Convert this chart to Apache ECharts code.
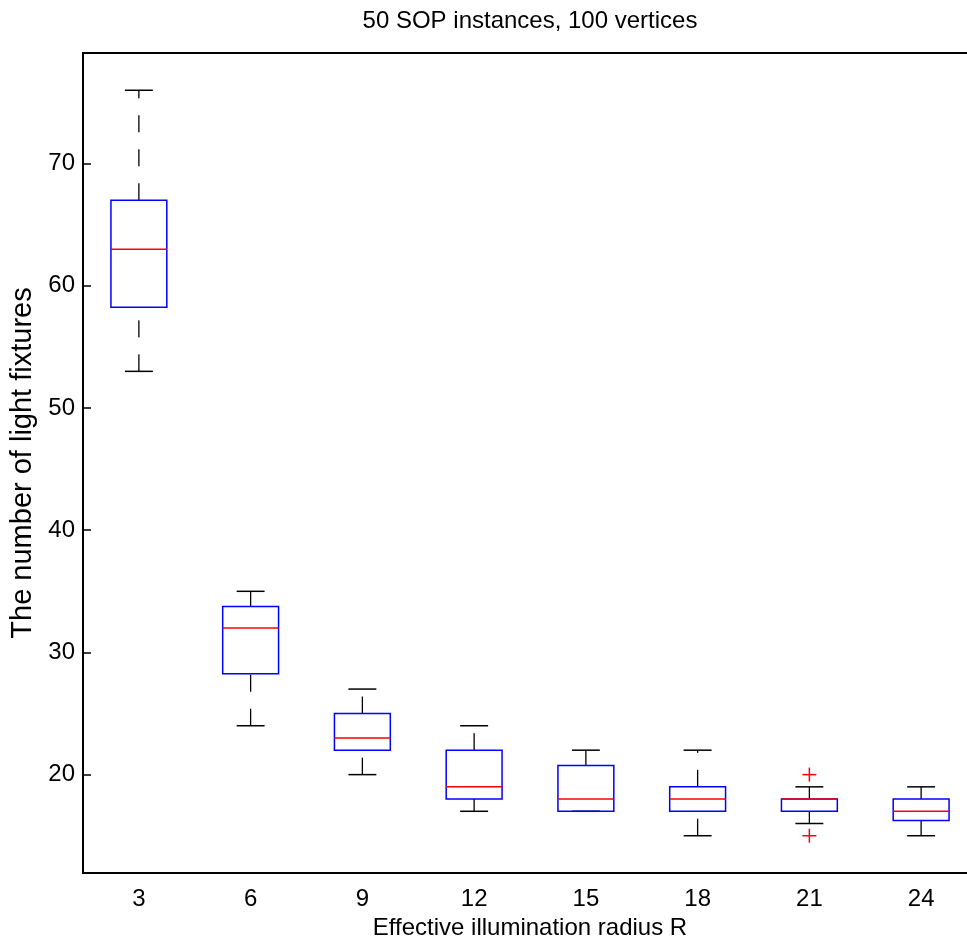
<!DOCTYPE html>
<html>

<head>
    <meta charset="UTF-8">
    <title>Light fixtures boxplot</title>
    <script src="https://cdn.jsdelivr.net/npm/echarts@6/dist/echarts.min.js"></script>
    <style>
        html, body { margin: 0; padding: 0; background: #fff; overflow: hidden; }
        /* the reference figure is cut off on the right, so the chart is a bit wider than the window */
        #main { width: 977px; height: 945px; }
    </style>
</head>

<body>
    <div id="main"></div>

    <script type="text/javascript">
        // values
        var radii = ['3', '6', '9', '12', '15', '18', '21', '24'];
        var lowWhisker = [53, 24, 20, 17, 17, 15, 16, 15];
        var q1 = [58.25, 28.25, 22, 18, 17, 17, 17, 16.25];
        var medians = [63, 32, 23, 19, 18, 18, 18, 17];
        var q3 = [67, 33.75, 25, 22, 20.75, 19, 18, 18];
        var highWhisker = [76, 35, 27, 24, 22, 22, 19, 19];
        var outlierCat = [6, 6];
        var outlierVal = [20, 15];
        var yTicks = [20, 30, 40, 50, 60, 70];

        var font = 'Liberation Sans';

        var boxData = [];
        for (var i = 0; i < radii.length; i++) {
            boxData.push([i, lowWhisker[i], q1[i], medians[i], q3[i], highWhisker[i]]);
        }
        var outlierData = [];
        for (var j = 0; j < outlierCat.length; j++) {
            outlierData.push([outlierCat[j], outlierVal[j]]);
        }

        function renderBox(params, api) {
            var idx = api.value(0);
            var half = api.size([1, 0])[0] * 0.25;
            var cap = half * 0.5;
            var low = api.coord([idx, api.value(1)]);
            var b1 = api.coord([idx, api.value(2)]);
            var med = api.coord([idx, api.value(3)]);
            var b3 = api.coord([idx, api.value(4)]);
            var high = api.coord([idx, api.value(5)]);
            var x = med[0];
            var whisker = { stroke: '#000', lineWidth: 1.3, lineDash: [17, 17] };
            var capStyle = { stroke: '#000', lineWidth: 1.5 };
            return {
                type: 'group',
                children: [
                    { type: 'line', shape: { x1: x, y1: b3[1], x2: x, y2: high[1] }, style: whisker },
                    { type: 'line', shape: { x1: x, y1: low[1], x2: x, y2: b1[1] }, style: whisker },
                    { type: 'line', shape: { x1: x - cap, y1: high[1], x2: x + cap, y2: high[1] }, style: capStyle },
                    { type: 'line', shape: { x1: x - cap, y1: low[1], x2: x + cap, y2: low[1] }, style: capStyle },
                    {
                        type: 'rect',
                        shape: { x: x - half, y: b3[1], width: half * 2, height: b1[1] - b3[1] },
                        style: { fill: 'none', stroke: '#0000ff', lineWidth: 1.5 }
                    },
                    { type: 'line', shape: { x1: x - half, y1: med[1], x2: x + half, y2: med[1] }, style: { stroke: '#ff0000', lineWidth: 1.5 } }
                ]
            };
        }

        function renderPlus(params, api) {
            var p = api.coord([api.value(0), api.value(1)]);
            var s = 7;
            var st = { stroke: '#ff0000', lineWidth: 1.5 };
            return {
                type: 'group',
                children: [
                    { type: 'line', shape: { x1: p[0] - s, y1: p[1], x2: p[0] + s, y2: p[1] }, style: st },
                    { type: 'line', shape: { x1: p[0], y1: p[1] - s, x2: p[0], y2: p[1] + s }, style: st }
                ]
            };
        }

        var chart = echarts.init(document.getElementById('main'));
        var option = {
            animation: false,
            backgroundColor: '#fff',
            title: {
                text: '50 SOP instances, 100 vertices',
                left: 525,
                top: 4,
                textAlign: 'center',
                textStyle: { fontFamily: font, fontSize: 24, fontWeight: 'normal', color: '#000' }
            },
            grid: {
                left: 83,
                right: 0,
                top: 53,
                bottom: 72,
                show: true,
                borderColor: '#000',
                borderWidth: 2,
                backgroundColor: 'transparent'
            },
            xAxis: {
                type: 'category',
                data: radii,
                boundaryGap: true,
                name: 'Effective illumination radius R',
                nameLocation: 'middle',
                nameGap: 40,
                nameTextStyle: { fontFamily: font, fontSize: 24, color: '#000' },
                axisLine: { show: true, lineStyle: { color: '#000', width: 2 } },
                axisTick: { show: false },
                axisLabel: { fontFamily: font, fontSize: 24, color: '#000', margin: 14 },
                splitLine: { show: false }
            },
            yAxis: {
                type: 'value',
                min: 11.95,
                max: 79.05,
                name: 'The number of light fixtures',
                nameLocation: 'middle',
                nameGap: 46,
                nameTextStyle: { fontFamily: font, fontSize: 29, color: '#000' },
                axisLine: { show: true, lineStyle: { color: '#000', width: 2 } },
                axisTick: { show: true, inside: true, length: 8, customValues: yTicks, lineStyle: { color: '#000', width: 1.5 } },
                axisLabel: { fontFamily: font, fontSize: 24, color: '#000', margin: 8, customValues: yTicks },
                splitLine: { show: false }
            },
            series: [
                {
                    type: 'custom',
                    renderItem: renderBox,
                    encode: { x: 0, y: [1, 2, 3, 4, 5] },
                    data: boxData
                },
                {
                    type: 'custom',
                    renderItem: renderPlus,
                    encode: { x: 0, y: 1 },
                    data: outlierData
                }
            ]
        };
        chart.setOption(option);
    </script>
</body>

</html>
